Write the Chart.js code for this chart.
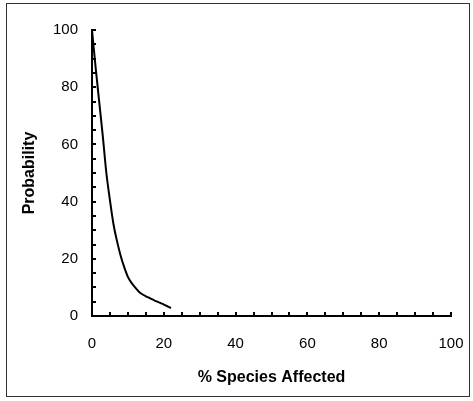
<!DOCTYPE html>
<html>
<head>
<meta charset="utf-8">
<script src="https://cdn.jsdelivr.net/npm/chart.js@4.4.1/dist/chart.umd.min.js"></script>
<style>
  html, body { margin: 0; padding: 0; background: #fff; }
  #wrap { position: relative; width: 473px; height: 401px; }
  #frame { position: absolute; left: 6px; top: 3px; width: 464px; height: 394px; border: 1px solid #333; box-sizing: border-box; pointer-events: none; }
  canvas { position: absolute; left: 0; top: 0; }
</style>
</head>
<body>
<div id="wrap">
  <canvas id="c" width="473" height="401"></canvas>
  <div id="frame"></div>
</div>
<script>
const speciesAffected = [0, 1, 2, 3, 4, 5, 6, 7, 8, 9, 10, 11, 12, 13, 14, 15, 16, 17, 18, 19, 20, 21, 22];
const probability = [100, 87, 75, 63, 50, 40.5, 32, 26, 21, 17, 13.7, 11.6, 10, 8.6, 7.6, 6.9, 6.3, 5.7, 5.1, 4.6, 4.0, 3.4, 2.8];
const xTickLabels = [0, 20, 40, 60, 80, 100];
const yTickLabels = [0, 20, 40, 60, 80, 100];
const minorStep = 5;

const points = speciesAffected.map((x, i) => ({ x: x, y: probability[i] }));

const innerTicks = {
  id: 'innerTicks',
  afterDraw(chart) {
    const ctx = chart.ctx;
    const xs = chart.scales.x, ys = chart.scales.y;
    const len = 4;
    ctx.save();
    ctx.strokeStyle = '#000';
    ctx.lineWidth = 2;
    ctx.beginPath();
    for (let v = xs.min; v <= xs.max + 1e-9; v += minorStep) {
      const px = Math.round(xs.getPixelForValue(v));
      ctx.moveTo(px, ys.bottom);
      ctx.lineTo(px, ys.bottom - len);
    }
    for (let v = ys.min; v <= ys.max + 1e-9; v += minorStep) {
      const py = Math.round(ys.getPixelForValue(v));
      ctx.moveTo(xs.left, py);
      ctx.lineTo(xs.left + len, py);
    }
    ctx.stroke();
    ctx.restore();
  }
};

new Chart(document.getElementById('c'), {
  type: 'scatter',
  data: {
    datasets: [{
      data: points,
      showLine: true,
      borderColor: '#000',
      borderWidth: 2,
      pointRadius: 0,
      tension: 0.4,
      cubicInterpolationMode: 'monotone'
    }]
  },
  options: {
    responsive: false,
    animation: false,
    layout: { padding: { left: 0, top: 30, right: 22, bottom: 0 } },
    plugins: { legend: { display: false }, tooltip: { enabled: false } },
    scales: {
      x: {
        type: 'linear',
        min: 0, max: 100,
        afterFit(scale) { scale.height = 85; scale.paddingLeft = 0; scale.paddingRight = 0; },
        afterBuildTicks(scale) { scale.ticks = xTickLabels.map(v => ({ value: v })); },
        grid: { display: false, drawTicks: false },
        border: { display: true, color: '#000', width: 2 },
        ticks: { padding: 19, color: '#000', font: { family: 'Liberation Sans, Arial, sans-serif', size: 15 }, maxRotation: 0 },
        title: { display: true, text: '% Species Affected', color: '#000', padding: { top: 0, bottom: 14 }, font: { family: 'Liberation Sans, Arial, sans-serif', size: 16, weight: 'bold' } }
      },
      y: {
        type: 'linear',
        min: 0, max: 100,
        afterFit(scale) { scale.width = 92; scale.paddingTop = 0; scale.paddingBottom = 0; },
        afterBuildTicks(scale) { scale.ticks = yTickLabels.map(v => ({ value: v })); },
        grid: { display: false, drawTicks: false },
        border: { display: true, color: '#000', width: 2 },
        ticks: { padding: 14, color: '#000', font: { family: 'Liberation Sans, Arial, sans-serif', size: 15 } },
        title: { display: true, text: 'Probability', color: '#000', padding: { top: 20, bottom: 0 }, font: { family: 'Liberation Sans, Arial, sans-serif', size: 16, weight: 'bold' } }
      }
    }
  },
  plugins: [innerTicks]
});
</script>
</body>
</html>
